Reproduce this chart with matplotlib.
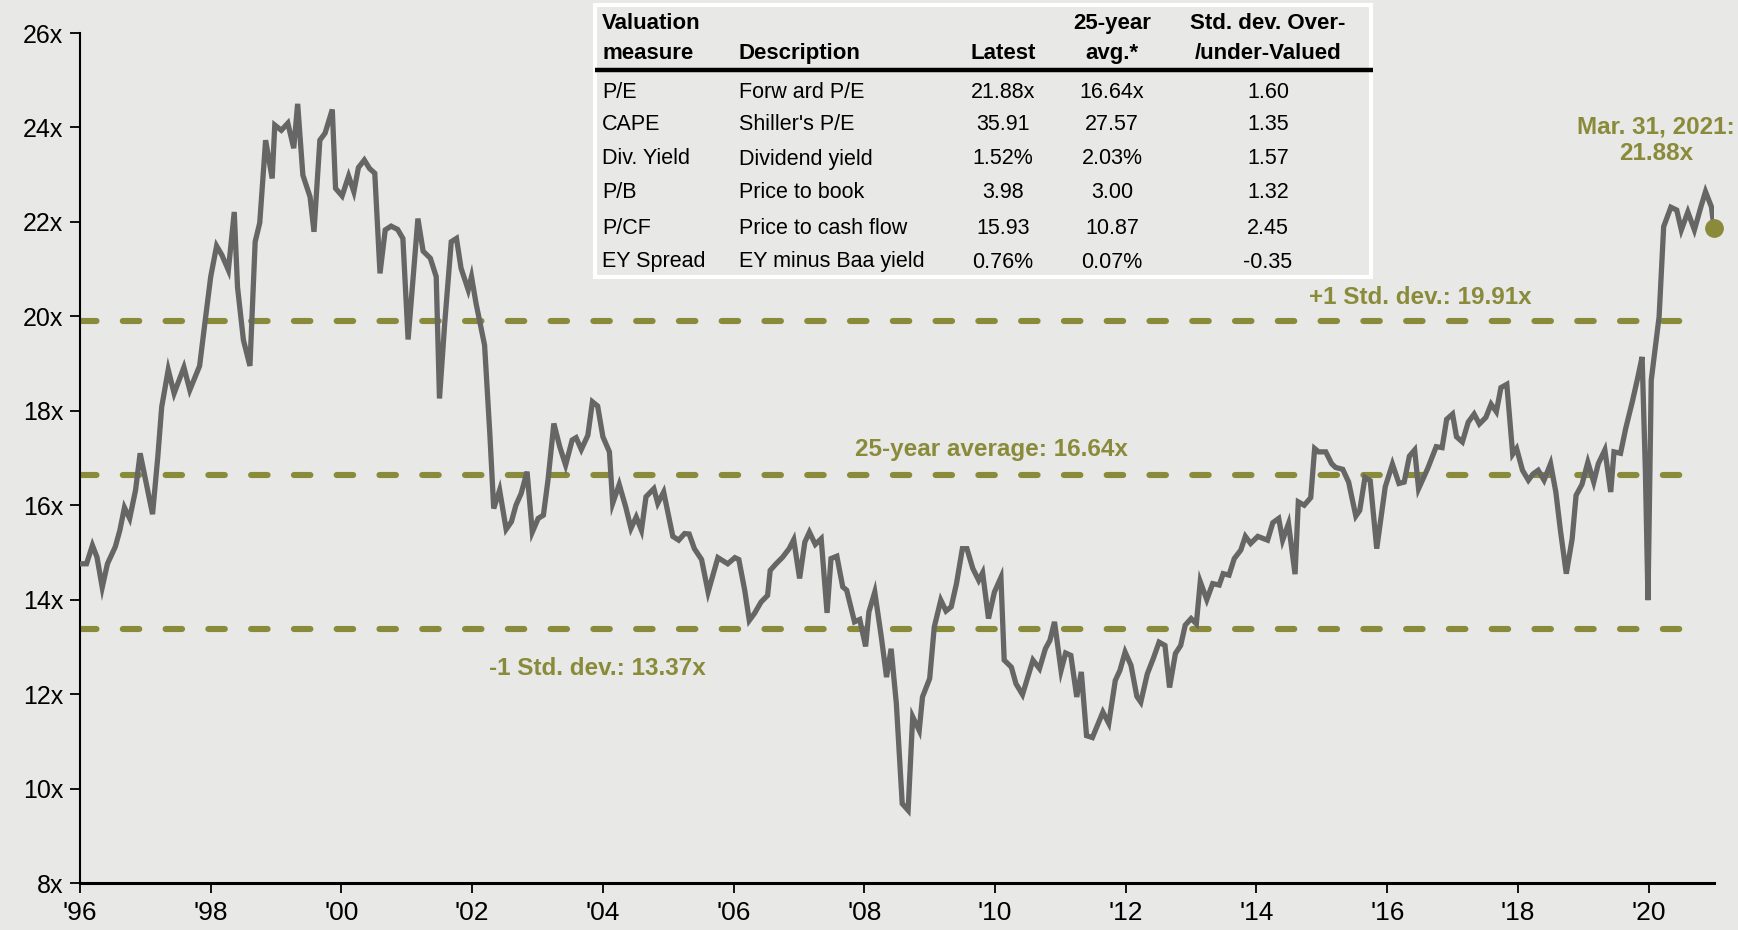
import matplotlib
matplotlib.use("Agg")
import matplotlib.pyplot as plt
from matplotlib.patches import Rectangle

plt.rcParams['font.family'] = ['Liberation Sans', 'DejaVu Sans']

# forward P/E (decimal year, value)
dates = [1996.00, 1996.10, 1996.19, 1996.26, 1996.34, 1996.42, 1996.54, 1996.61, 1996.68, 1996.76,
         1996.85, 1996.92, 1997.11, 1997.19, 1997.25, 1997.35, 1997.44, 1997.59, 1997.68, 1997.83,
         1997.91, 1998.00, 1998.09, 1998.17, 1998.27, 1998.36, 1998.41, 1998.50, 1998.60, 1998.68,
         1998.75, 1998.84, 1998.94, 1998.98, 1999.08, 1999.18, 1999.27, 1999.33, 1999.41, 1999.52,
         1999.58, 1999.67, 1999.75, 1999.86, 1999.91, 2000.01, 2000.11, 2000.19, 2000.26, 2000.35,
         2000.43, 2000.51, 2000.59, 2000.67, 2000.76, 2000.86, 2000.94, 2001.02, 2001.17, 2001.25,
         2001.36, 2001.45, 2001.50, 2001.58, 2001.68, 2001.76, 2001.83, 2001.94, 2001.99, 2002.06,
         2002.19, 2002.27, 2002.33, 2002.42, 2002.52, 2002.60, 2002.67, 2002.75, 2002.84, 2002.92,
         2003.01, 2003.09, 2003.16, 2003.25, 2003.34, 2003.43, 2003.53, 2003.59, 2003.67, 2003.77,
         2003.84, 2003.92, 2004.00, 2004.10, 2004.15, 2004.25, 2004.35, 2004.43, 2004.51, 2004.59,
         2004.66, 2004.78, 2004.84, 2004.93, 2005.07, 2005.16, 2005.25, 2005.32, 2005.40, 2005.51,
         2005.61, 2005.76, 2005.91, 2006.02, 2006.08, 2006.17, 2006.24, 2006.32, 2006.42, 2006.52,
         2006.56, 2006.65, 2006.75, 2006.85, 2006.92, 2007.01, 2007.09, 2007.16, 2007.25, 2007.34,
         2007.43, 2007.49, 2007.58, 2007.67, 2007.73, 2007.85, 2007.93, 2008.02, 2008.07, 2008.16,
         2008.26, 2008.34, 2008.41, 2008.49, 2008.58, 2008.67, 2008.74, 2008.84, 2008.89, 2009.00,
         2009.07, 2009.17, 2009.25, 2009.33, 2009.41, 2009.50, 2009.57, 2009.66, 2009.75, 2009.81,
         2009.90, 2009.99, 2010.09, 2010.14, 2010.25, 2010.32, 2010.42, 2010.58, 2010.68, 2010.77,
         2010.84, 2010.91, 2011.01, 2011.08, 2011.16, 2011.25, 2011.32, 2011.40, 2011.49, 2011.65,
         2011.74, 2011.84, 2011.91, 2011.99, 2012.08, 2012.17, 2012.23, 2012.33, 2012.42, 2012.51,
         2012.60, 2012.67, 2012.76, 2012.84, 2012.91, 2013.00, 2013.08, 2013.14, 2013.24, 2013.33,
         2013.43, 2013.49, 2013.58, 2013.66, 2013.76, 2013.83, 2013.91, 2014.02, 2014.17, 2014.25,
         2014.34, 2014.40, 2014.49, 2014.59, 2014.64, 2014.73, 2014.83, 2014.89, 2014.95, 2015.06,
         2015.15, 2015.21, 2015.32, 2015.41, 2015.52, 2015.58, 2015.66, 2015.74, 2015.84, 2015.97,
         2016.08, 2016.18, 2016.26, 2016.34, 2016.42, 2016.48, 2016.62, 2016.75, 2016.84, 2016.91,
         2017.00, 2017.06, 2017.15, 2017.24, 2017.33, 2017.41, 2017.51, 2017.59, 2017.67, 2017.74,
         2017.83, 2017.92, 2017.98, 2018.07, 2018.16, 2018.23, 2018.31, 2018.40, 2018.50, 2018.58,
         2018.65, 2018.74, 2018.83, 2018.89, 2018.98, 2019.07, 2019.16, 2019.23, 2019.33, 2019.42,
         2019.47, 2019.57, 2019.65, 2019.75, 2019.83, 2019.90, 2019.95, 2019.99, 2020.04, 2020.16,
         2020.23, 2020.34, 2020.43, 2020.50, 2020.60, 2020.70, 2020.80, 2020.87, 2020.96, 2021.00]
pe = [14.76, 14.76, 15.15, 14.90, 14.26, 14.76, 15.12, 15.47, 15.95, 15.72,
      16.32, 17.10, 15.81, 17.02, 18.08, 18.87, 18.37, 18.92, 18.44, 18.95,
      19.85, 20.84, 21.49, 21.30, 20.98, 22.21, 20.62, 19.50, 18.95, 21.58,
      21.98, 23.73, 22.92, 24.05, 23.94, 24.09, 23.56, 24.50, 22.99, 22.53,
      21.79, 23.73, 23.88, 24.38, 22.71, 22.55, 22.97, 22.64, 23.15, 23.31,
      23.13, 23.03, 20.91, 21.83, 21.91, 21.84, 21.65, 19.51, 22.07, 21.38,
      21.23, 20.84, 18.26, 19.85, 21.58, 21.65, 21.02, 20.56, 20.84, 20.27,
      19.39, 17.52, 15.93, 16.32, 15.49, 15.65, 16.00, 16.25, 16.71, 15.43,
      15.72, 15.79, 16.53, 17.73, 17.24, 16.85, 17.38, 17.43, 17.18, 17.48,
      18.19, 18.10, 17.45, 17.13, 16.04, 16.44, 15.96, 15.51, 15.75, 15.47,
      16.18, 16.35, 16.04, 16.28, 15.34, 15.26, 15.40, 15.39, 15.08, 14.85,
      14.16, 14.89, 14.76, 14.89, 14.85, 14.20, 13.56, 13.71, 13.95, 14.09,
      14.62, 14.76, 14.90, 15.08, 15.27, 14.45, 15.22, 15.43, 15.17, 15.29,
      13.72, 14.87, 14.92, 14.27, 14.20, 13.53, 13.58, 13.01, 13.74, 14.16,
      13.21, 12.36, 12.96, 11.80, 9.68, 9.54, 11.52, 11.23, 11.94, 12.33,
      13.42, 13.99, 13.76, 13.85, 14.34, 15.08, 15.08, 14.66, 14.41, 14.57,
      13.60, 14.16, 14.47, 12.72, 12.57, 12.22, 11.99, 12.72, 12.54, 12.96,
      13.14, 13.53, 12.50, 12.87, 12.82, 11.94, 12.47, 11.12, 11.08, 11.62,
      11.38, 12.29, 12.50, 12.89, 12.61, 11.95, 11.83, 12.43, 12.75, 13.10,
      13.03, 12.14, 12.86, 13.03, 13.46, 13.60, 13.49, 14.38, 14.00, 14.34,
      14.31, 14.55, 14.52, 14.87, 15.05, 15.34, 15.19, 15.34, 15.26, 15.63,
      15.72, 15.26, 15.61, 14.54, 16.07, 16.00, 16.16, 17.20, 17.13, 17.13,
      16.88, 16.80, 16.76, 16.49, 15.77, 15.89, 16.59, 16.52, 15.08, 16.39,
      16.87, 16.46, 16.49, 17.04, 17.17, 16.35, 16.78, 17.24, 17.22, 17.82,
      17.93, 17.45, 17.34, 17.76, 17.93, 17.72, 17.86, 18.14, 17.98, 18.49,
      18.56, 17.08, 17.20, 16.74, 16.53, 16.66, 16.74, 16.53, 16.88, 16.28,
      15.47, 14.55, 15.29, 16.21, 16.44, 16.91, 16.49, 16.88, 17.17, 16.28,
      17.13, 17.10, 17.63, 18.19, 18.68, 19.14, 16.74, 13.99, 18.65, 19.99,
      21.90, 22.31, 22.25, 21.83, 22.21, 21.83, 22.32, 22.64, 22.32, 21.88]

avg = 16.64
plus_sd = 19.91
minus_sd = 13.37
latest = 21.88

yticks = [8, 10, 12, 14, 16, 18, 20, 22, 24, 26]
xticks = list(range(1996, 2021, 2))
xlabels = ["'%02d" % (y % 100) for y in xticks]

header1 = ["Valuation", "", "", "25-year", "Std. dev. Over-"]
header2 = ["measure", "Description", "Latest", "avg.*", "/under-Valued"]
rows = [
    ["P/E", "Forw ard P/E", "21.88x", "16.64x", "1.60"],
    ["CAPE", "Shiller's P/E", "35.91", "27.57", "1.35"],
    ["Div. Yield", "Dividend yield", "1.52%", "2.03%", "1.57"],
    ["P/B", "Price to book", "3.98", "3.00", "1.32"],
    ["P/CF", "Price to cash flow", "15.93", "10.87", "2.45"],
    ["EY Spread", "EY minus Baa yield", "0.76%", "0.07%", "-0.35"],
]

bg = '#e8e8e6'
olive = '#8a8b3a'
grey = '#666666'

W, H = 1738, 930
fig = plt.figure(figsize=(W / 100, H / 100), dpi=100, facecolor=bg)
ax = fig.add_axes([80 / W, 1 - 883 / H, (1714 - 80) / W, (883 - 33) / H])
ax.set_facecolor(bg)

# dashed reference lines
for lvl in [plus_sd, avg, minus_sd]:
    ax.plot([1996, 2020.8], [lvl, lvl], color=olive, lw=4.4,
            dashes=(2.7, 4.3), dash_capstyle='round')

ax.plot(dates, pe, color=grey, lw=3.8, solid_joinstyle='miter', zorder=3)
ax.plot([dates[-1]], [latest], 'o', color=olive, ms=12.5, zorder=4, clip_on=False)

lab = dict(color=olive, fontsize=17.5, fontweight='bold', ha='center', va='center')
ax.text(2016.50, 20.39, '+1 Std. dev.: 19.91x', **lab)
ax.text(2009.94, 17.17, '25-year average: 16.64x', **lab)
ax.text(2003.92, 12.55, '-1 Std. dev.: 13.37x', **lab)
ax.text(2020.11, 23.73, 'Mar. 31, 2021:\n21.88x', linespacing=1.2, **lab)

ax.set_xlim(1996, 2021.0)
ax.set_ylim(8, 26)
ax.set_yticks(yticks)
ax.set_yticklabels(['%dx' % v for v in yticks], fontsize=18)
ax.set_xticks(xticks)
ax.set_xticklabels(xlabels, fontsize=19)
ax.tick_params(axis='y', direction='out', length=7, width=1.3, pad=5)
ax.tick_params(axis='x', direction='out', length=7, width=1.3, pad=6)
for s in ['top', 'right']:
    ax.spines[s].set_visible(False)
ax.spines['left'].set_linewidth(1.5)
ax.spines['bottom'].set_linewidth(2.2)

# valuation table, drawn in pixel units
tab = fig.add_axes([595 / W, 1 - 277 / H, 776 / W, 272 / H])
tab.set_xlim(595, 1371)
tab.set_ylim(277, 5)
tab.axis('off')
tab.add_patch(Rectangle((595, 5), 776, 272, facecolor=bg, edgecolor='white', lw=3, clip_on=False))
tab.plot([595, 1373], [70, 70], color='black', lw=3.2, solid_capstyle='butt', clip_on=False)

col_x = [602, 739, 1003, 1112, 1268]
col_ha = ['left', 'left', 'center', 'center', 'center']
for i in range(5):
    tab.text(col_x[i], 29, header1[i], ha=col_ha[i], va='baseline', fontsize=16, fontweight='bold')
    tab.text(col_x[i], 59, header2[i], ha=col_ha[i], va='baseline', fontsize=16, fontweight='bold')
row_y = [90, 123, 157, 191, 226, 260]
for r, yy in zip(rows, row_y):
    for i in range(5):
        tab.text(col_x[i], yy + 7.5, r[i], ha=col_ha[i], va='baseline', fontsize=15.5)

fig.savefig('out.png', dpi=100, facecolor=bg)
